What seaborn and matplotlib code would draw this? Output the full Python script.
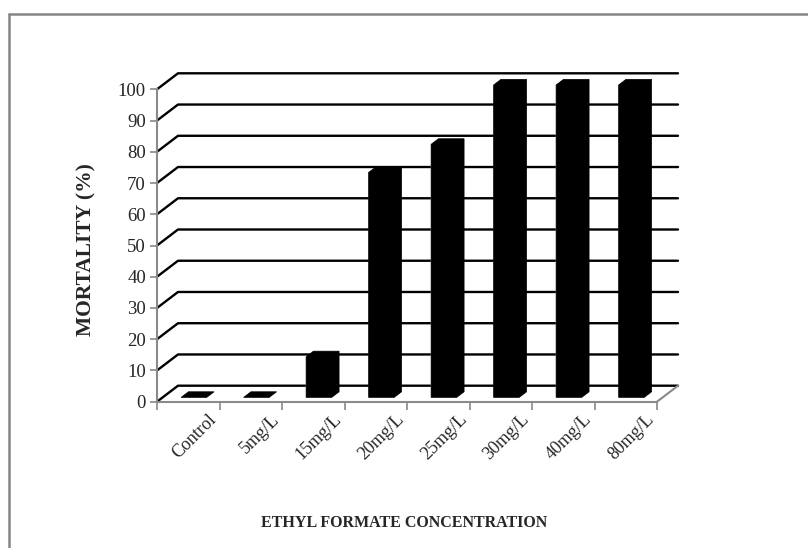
import numpy as np
import pandas as pd
import seaborn as sns
import matplotlib.pyplot as plt
import matplotlib.transforms as mtransforms
from matplotlib.patches import Polygon
from matplotlib.lines import Line2D

# data
concentrations = ['Control', '5mg/L', '15mg/L', '20mg/L', '25mg/L', '30mg/L', '40mg/L', '80mg/L']
mortality = [0, 0, 13, 72, 81, 100, 100, 100]
y_ticks = list(range(0, 101, 10))

df = pd.DataFrame({'conc': concentrations, 'mortality': mortality})

sns.set_style('white')
plt.rcParams['font.family'] = ['Liberation Serif', 'DejaVu Serif']

W, H = 808, 548
fig = plt.figure(figsize=(W / 100, H / 100), dpi=100)

# front plane: x -0.5..7.5 -> px 157..657, y 0..100 -> px 401.7..89.3
px_cat = 62.5
px_unit = 3.124
x_left, y_zero = 157, 401.7
x_right_px = 695
x_max = -0.5 + (x_right_px - x_left) / px_cat
y_max = 110
ax = fig.add_axes([x_left / W, (H - y_zero) / H,
                   (x_right_px - x_left) / W, y_max * px_unit / H])

# 3D depth of the floor, in data units
DX = 21 / px_cat
DY = 16 / px_unit
f_front, f_back = 0.27, 0.62

sns.barplot(data=df, x='conc', y='mortality', color='black', saturation=1,
            width=0.41, ax=ax, zorder=3)

# push bars into the depth and give them a top / side face
for p in ax.patches:
    x0 = p.get_x() + f_front * DX
    y0 = f_front * DY
    w = p.get_width()
    h = p.get_height()
    p.set_x(x0)
    p.set_y(y0)
    bx = (f_back - f_front) * DX
    by = (f_back - f_front) * DY
    pts = [(x0, y0 + h), (x0 + bx, y0 + h + by), (x0 + w + bx, y0 + h + by),
           (x0 + w + bx, y0 + by), (x0 + w, y0), (x0, y0)]
    ax.add_patch(Polygon(pts, closed=True, facecolor='black', edgecolor='black',
                         lw=0.5, zorder=3))

# back wall gridlines with the left side-wall diagonals
for v in y_ticks:
    ax.plot([-0.5, -0.5 + DX, 7.5 + DX], [v, v + DY, v + DY],
            color='black', lw=1.7, zorder=1, clip_on=False)
# right floor edge
ax.plot([7.5, 7.5 + DX], [0, DY], color='#8a8a8a', lw=1.5, zorder=1, clip_on=False)

ax.set_xlim(-0.5, x_max)
ax.set_ylim(0, y_max)

for s in ['top', 'right']:
    ax.spines[s].set_visible(False)
for s in ['left', 'bottom']:
    ax.spines[s].set_color('#8a8a8a')
    ax.spines[s].set_linewidth(1.5)
ax.spines['left'].set_bounds(0, 100)
ax.spines['bottom'].set_bounds(-0.5, 7.5)

ax.set_yticks(y_ticks)
ax.set_yticklabels([str(v) for v in y_ticks])
ax.tick_params(axis='y', length=5, width=1.2, color='#8a8a8a', labelsize=13.5, pad=3,
               left=True)

ax.set_xticks(np.arange(-0.5, 8, 1))
ax.set_xticklabels([])
ax.tick_params(axis='x', length=6, width=1.2, color='#8a8a8a', bottom=True)
ax.set_xlabel('')
ax.set_ylabel('')

# rotated category labels
offset = mtransforms.ScaledTranslation(0.26, -0.15, fig.dpi_scale_trans)
for i, lab in enumerate(concentrations):
    ax.text(i, 0, lab, transform=ax.transData + offset, rotation=45,
            rotation_mode='anchor', ha='right', va='center', fontsize=13)

fig.text(86 / W, 1 - 250 / H, 'MORTALITY (%)', rotation=90, ha='center',
         va='center', fontsize=15.5, fontweight='bold')
fig.text(404 / W, 1 - 523 / H, 'ETHYL FORMATE CONCENTRATION', ha='center',
         va='center', fontsize=11.5, fontweight='bold')

# chart area border (left and top)
fig.add_artist(Line2D([9 / W, 9 / W], [0, 1 - 14 / H], transform=fig.transFigure,
                      color='#868686', lw=1.8))
fig.add_artist(Line2D([9 / W, 1], [1 - 14 / H, 1 - 14 / H], transform=fig.transFigure,
                      color='#868686', lw=1.8))

fig.savefig('out.png', dpi=100)
